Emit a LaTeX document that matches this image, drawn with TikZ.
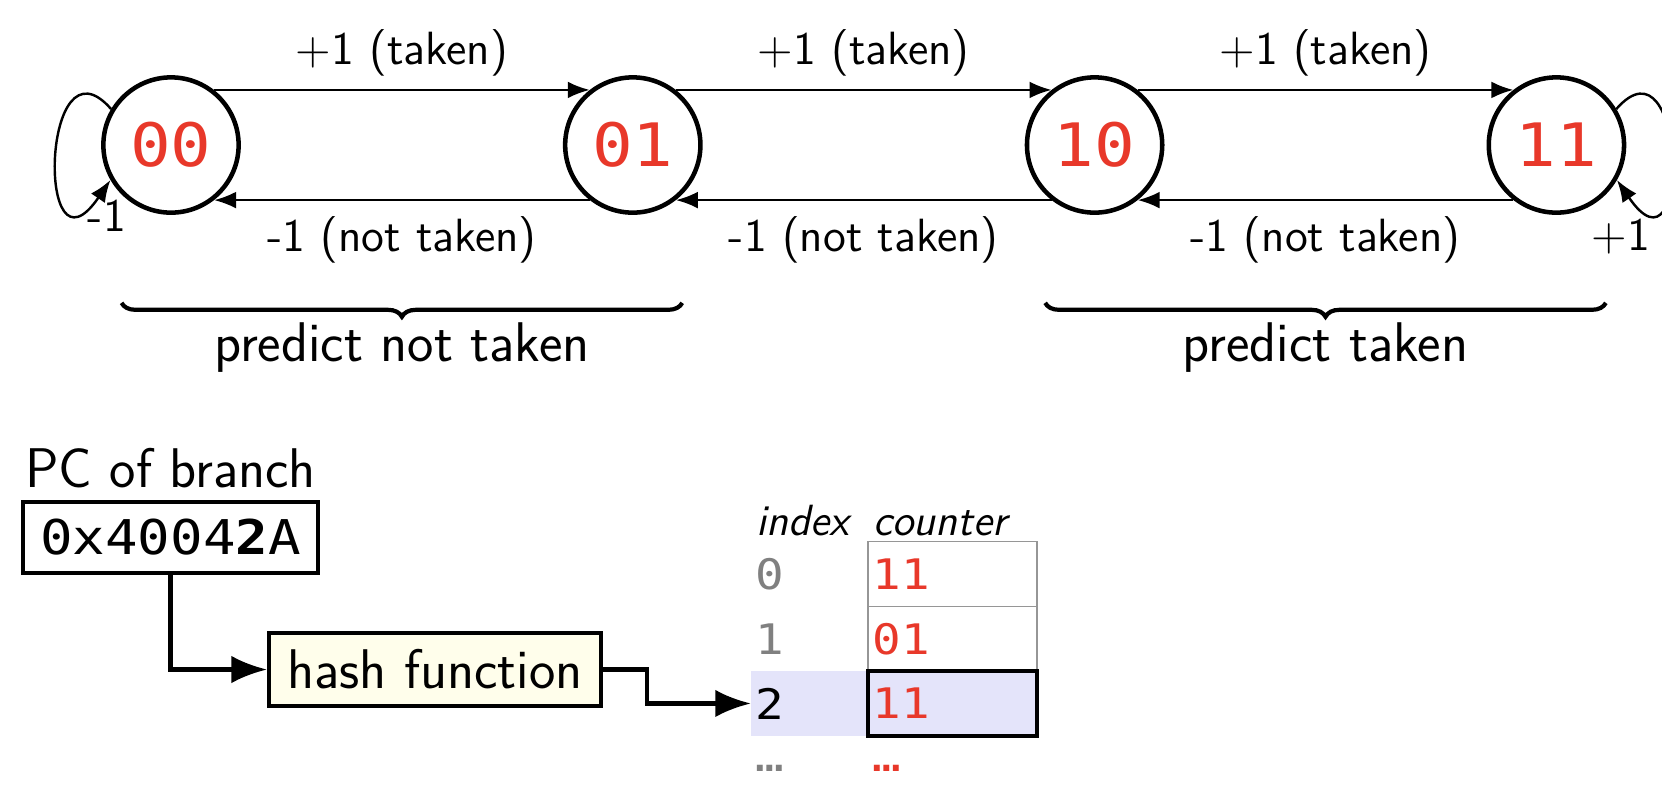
\documentclass[tikz,border=0pt]{standalone}
\usepackage{fontspec}
\setmonofont[FakeStretch=1.13]{DejaVu Sans Mono}
\renewcommand{\familydefault}{\sfdefault}
\usetikzlibrary{arrows.meta,positioning,decorations.pathreplacing}

\definecolor{ctrred}{RGB}{232,56,42}
\definecolor{hashfill}{RGB}{255,254,235}
\definecolor{rowhl}{RGB}{228,228,250}
\definecolor{idxgray}{RGB}{128,128,128}
\definecolor{cellgray}{RGB}{150,150,150}

\begin{document}
\begin{tikzpicture}[x=0.309pt, y=-0.309pt, node distance=99.5pt,
    >={Latex[length=6.8pt,width=5.2pt]}]
    \useasboundingbox (0,0) rectangle (1662,784);

    % two-bit counter states
    \tikzset{state/.style = {shape=circle, draw, line width=1.4pt, minimum size=41.8pt,
        inner sep=0pt, text=ctrred, font=\ttfamily\fontsize{18.5}{22}\selectfont}}
    \tikzset{lbl/.style = {font=\fontsize{14.4}{17}\selectfont}}
    \tikzset{big/.style = {font=\fontsize{17.28}{20}\selectfont}}
    \tikzset{pre/.style = {->, line width=0.75pt}}
    \tikzset{brc/.style = {decorate, decoration={brace, amplitude=4.3pt}, line width=1.3pt}}

    \node[state] (s00) at (171,145)   {00};
    \node[state] (s01) [right=of s00] {01};
    \node[state] (s10) [right=of s01] {10};
    \node[state] (s11) [right=of s10] {11};

    % transitions
    \draw[pre] (s00.52) -- node[lbl, above=0.5pt] (t01) {+1 (taken)} (s01.128);
    \draw[pre] (s01.52) -- node[lbl, above=0.5pt] (t10) {+1 (taken)} (s10.128);
    \draw[pre] (s10.52) -- node[lbl, above=0.5pt] (t11) {+1 (taken)} (s11.128);
    \draw[pre] (s01.-128) -- node[lbl, below=1.5pt] (n00) {-1 (not taken)} (s00.-52);
    \draw[pre] (s10.-128) -- node[lbl, below=1.5pt] (n01) {-1 (not taken)} (s01.-52);
    \draw[pre] (s11.-128) -- node[lbl, below=1.5pt] (n10) {-1 (not taken)} (s10.-52);

    % saturating self loops
    \draw[pre] (s00.149) .. controls +(-21.6pt,24.7pt) and +(-23.2pt,-34pt) .. (s00.210);
    \node[lbl, anchor=base] (dec00) at (107,231) {-1};
    \draw[pre] (s11.31) .. controls +(21.6pt,24.7pt) and +(23.2pt,-34pt) .. (s11.-30);
    \node[lbl, anchor=base] (inc11) at (1621,250) {+1};

    % predictions
    \draw[brc] ([yshift=-33.5pt]s01.south east) -- ([yshift=-33.5pt]s00.south west)
       node[big, midway, below=2.2pt] (pnt) {predict not taken};
    \draw[brc] ([yshift=-33.5pt]s11.south east) -- ([yshift=-33.5pt]s10.south west)
       node[big, midway, below=2.2pt] (pt) {predict taken};

    % lookup
    \tikzset{box/.style = {shape=rectangle, draw, line width=1.3pt, inner sep=0pt}}
    \tikzset{conn/.style = {-{Latex[length=11pt,width=8.5pt]}, line width=1.3pt}}
    \tikzset{cell/.style = {shape=rectangle, draw=cellgray, line width=0.5pt, outer sep=0pt,
        minimum height=20pt, inner ysep=0pt, inner xsep=1.5pt, text width=49.2pt, align=left,
        text=ctrred, font=\ttfamily\fontsize{13}{15}\selectfont}}
    \tikzset{idx/.style = {shape=rectangle, outer sep=0pt, minimum height=20pt, inner ysep=0pt,
        inner xsep=1.5pt, text width=33.2pt, align=left, text=idxgray,
        font=\ttfamily\fontsize{13}{15}\selectfont}}
    \tikzset{hdr/.style = {inner sep=1.5pt, font=\itshape\fontsize{13.5}{16}\selectfont}}

    \node[box, minimum width=91pt, minimum height=22pt,
          font=\ttfamily\fontsize{14.8}{17}\selectfont] (pc) at (170.5,537.5) {0x4004\textbf{2}A};
    \node[big] (pclbl) [above=0pt of pc] {PC of branch};
    \node[box, big, fill=hashfill, minimum width=102.5pt, minimum height=22.5pt] (hash)
       at (435,669.5) {hash function};

    % table
    \node[cell] (c0) at (952.5,574)   {11};
    \node[cell] (c1) [below=0pt of c0] {01};
    \node[idx, fill=rowhl, text=black] (i2) [below=0pt of c1, xshift=-44.2pt] {2};
    \node[cell, fill=rowhl, draw=black, line width=1.3pt] (c2) [below=0pt of c1] {11};
    \node[idx] (i0) [left=0pt of c0] {0};
    \node[idx] (i1) [left=0pt of c1] {1};
    \node[idx] (idots) [below=0pt of i2] {…};
    \node[cell, draw=none] (cdots) [below=0pt of c2] {…};
    \node[hdr, anchor=south west] (hidx) at (i0.north west) {index};
    \node[hdr, anchor=south west] (hctr) at (c0.north west) {counter};

    \draw[conn] (pc) |- (hash);
    \draw[conn] (hash.east) -- ++(44,0) |- (i2);
\end{tikzpicture}
\end{document}
